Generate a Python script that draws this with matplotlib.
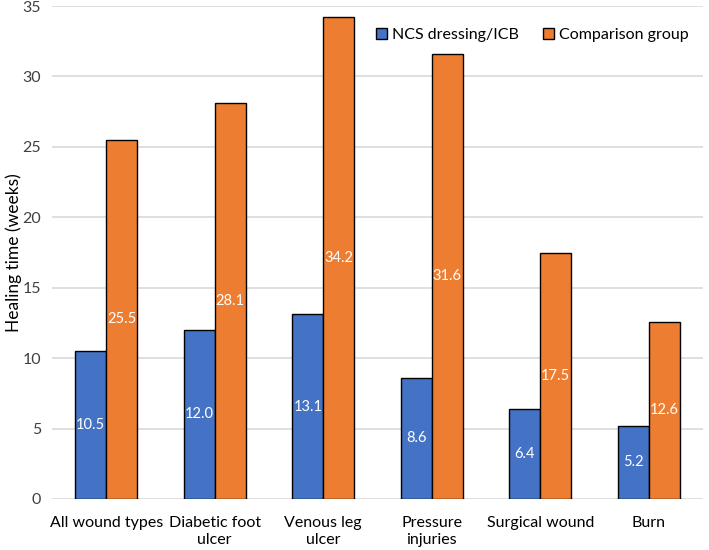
import numpy as np
import matplotlib.pyplot as plt

plt.rcParams['font.family'] = ['Lato', 'DejaVu Sans']

categories = ['All wound types', 'Diabetic foot\nulcer', 'Venous leg\nulcer',
              'Pressure\ninjuries', 'Surgical wound', 'Burn']
ncs_values = [10.5, 12.0, 13.1, 8.6, 6.4, 5.2]
comparison_values = [25.5, 28.1, 34.2, 31.6, 17.5, 12.6]
series_names = ['NCS dressing/ICB', 'Comparison group']

blue = '#4472C4'
orange = '#ED7D31'

fig = plt.figure(figsize=(7.09, 5.5), dpi=100)
ax = fig.add_axes([52 / 709, 51 / 550, 651 / 709, 493 / 550])

x = np.arange(len(categories))
width = 0.285

b1 = ax.bar(x - width / 2, ncs_values, width, color=blue, edgecolor='black',
            linewidth=1, label=series_names[0], zorder=3)
b2 = ax.bar(x + width / 2, comparison_values, width, color=orange, edgecolor='black',
            linewidth=1, label=series_names[1], zorder=3)

for bars, vals in [(b1, ncs_values), (b2, comparison_values)]:
    ax.bar_label(bars, labels=[f'{v:.1f}' for v in vals], label_type='center',
                 color='white', fontsize=10.5, zorder=4)

ax.set_xlim(-0.5, len(categories) - 0.5)
ax.set_ylim(0, 35)
ax.set_yticks(np.arange(0, 36, 5))
ax.yaxis.grid(True, color='#D9D9D9', linewidth=1.2, zorder=0)
ax.set_axisbelow(True)
for s in ax.spines.values():
    s.set_visible(False)
ax.tick_params(length=0, labelsize=11.5, colors='#404040')
ax.tick_params(axis='x', pad=12)
ax.tick_params(axis='y', pad=8)
ax.set_xticks(x)
ax.set_xticklabels(categories, color='black', linespacing=1.3)
ax.set_ylabel('Healing time (weeks)', fontsize=12.5, color='black')
ax.yaxis.set_label_coords(-0.046, 0.5)

leg = ax.legend(loc='upper right', bbox_to_anchor=(1.0, 0.985), frameon=False,
                ncol=2, fontsize=11.5, handlelength=0.7, handleheight=0.7,
                handletextpad=0.3, columnspacing=1.5)

fig.savefig('out.png', dpi=100)
